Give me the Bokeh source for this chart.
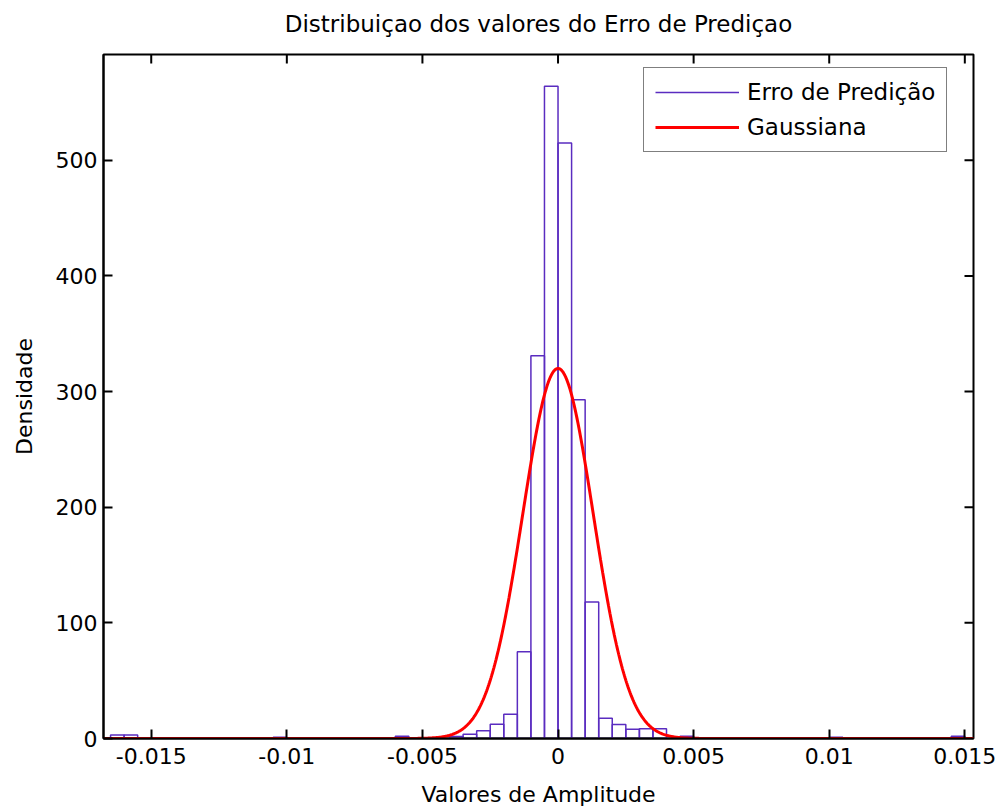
import numpy as np
from bokeh.plotting import figure
from bokeh.models import (ColumnDataSource, Range1d, FixedTicker, LinearAxis,
                          Legend, LegendItem)
from bokeh.embed import file_html
from bokeh.resources import INLINE

# Histogram of the prediction error (density), bins of width 0.0005
bin_width = 0.0005
bin_left = [-0.0165, -0.0160, -0.0105, -0.0060,
            -0.0040, -0.0035, -0.0030, -0.0025, -0.0020, -0.0015,
            -0.0010, -0.0005, 0.0000, 0.0005, 0.0010, 0.0015,
            0.0020, 0.0025, 0.0030, 0.0035, 0.0045, 0.0100, 0.0145]
bin_density = [3, 3, 1, 2,
               1.7, 3.7, 6.6, 12.4, 21, 75,
               331, 564, 515, 293, 118, 17.5,
               12, 8, 8.5, 8.5, 2, 1, 2]

# Fitted normal curve parameters
gauss_mu = 0.0
gauss_sigma = 0.0013
gauss_peak = 320.0

x_ticks = [-0.015, -0.01, -0.005, 0, 0.005, 0.01, 0.015]
x_tick_labels = ["-0.015", "-0.01", "-0.005", "0", "0.005", "0.01", "0.015"]
y_ticks = [0, 100, 200, 300, 400, 500]

title_text = "Distribuiçao dos valores do Erro de Prediçao"

x_min, x_max = -0.01676, 0.01532
y_max = 591.5

FONT = "DejaVu Sans"
TEXT_FS = "23px"
TICK_FS = "22px"
LABEL_FS = "22px"
PURPLE = "#5a2cc0"
RED = "#ff0000"

W, H = 997, 810
BL, BR, BT, BB = 103, 24, 54, 72
TICK_LEN = 9

plot_w = W - BL - BR
plot_h = H - BT - BB

left = np.array(bin_left)
hist_src = ColumnDataSource(dict(left=left, right=left + bin_width,
                                 top=np.array(bin_density, dtype=float),
                                 bottom=np.zeros(len(left))))

gx = np.linspace(x_min, x_max, 1200)
gy = gauss_peak * np.exp(-0.5 * ((gx - gauss_mu) / gauss_sigma) ** 2)
gauss_src = ColumnDataSource(dict(x=gx, y=gy))

p = figure(width=W, height=H, output_backend="svg", toolbar_location=None,
           x_range=Range1d(x_min, x_max), y_range=Range1d(0, y_max),
           x_axis_location=None, y_axis_location=None,
           min_border_left=BL, min_border_right=BR,
           min_border_top=BT, min_border_bottom=BB)
p.grid.visible = False
p.outline_line_color = "black"
p.outline_line_width = 2
p.background_fill_color = "white"
p.border_fill_color = "white"

bars = p.quad(left="left", right="right", top="top", bottom="bottom",
              source=hist_src, fill_color="white", fill_alpha=0.0,
              line_color=PURPLE, line_width=1.5)
curve = p.line("x", "y", source=gauss_src, line_color=RED, line_width=3)

# Bottom and left axes with inward ticks
x_axis = LinearAxis(axis_label="Valores de Amplitude",
                    ticker=FixedTicker(ticks=x_ticks),
                    major_label_overrides={t: s for t, s in zip(x_ticks, x_tick_labels)})
y_axis = LinearAxis(axis_label="Densidade", ticker=FixedTicker(ticks=y_ticks))
p.add_layout(x_axis, "below")
p.add_layout(y_axis, "left")

for ax in [x_axis, y_axis]:
    ax.axis_line_color = "black"
    ax.axis_line_width = 2
    ax.major_tick_line_color = "black"
    ax.major_tick_line_width = 2
    ax.major_tick_in = TICK_LEN
    ax.major_tick_out = 0
    ax.minor_tick_line_color = None
    ax.major_label_text_font = FONT
    ax.major_label_text_font_size = TICK_FS
    ax.major_label_text_color = "black"
    ax.axis_label_text_font = FONT
    ax.axis_label_text_font_size = LABEL_FS
    ax.axis_label_text_font_style = "normal"
    ax.axis_label_text_color = "black"

x_axis.major_label_standoff = 9
x_axis.axis_label_standoff = 15
y_axis.major_label_standoff = 6
y_axis.axis_label_standoff = 16

# Title carried by a tick-less axis above the box
title_axis = LinearAxis(axis_label=title_text, ticker=FixedTicker(ticks=[]),
                        axis_line_color=None, major_tick_in=0, major_tick_out=0,
                        minor_tick_line_color=None, major_label_standoff=0,
                        axis_label_standoff=18, axis_label_text_font=FONT,
                        axis_label_text_font_size=TEXT_FS,
                        axis_label_text_font_style="normal",
                        axis_label_text_color="black")
p.add_layout(title_axis, "above")

# Inward ticks on the top and right edges of the box
dx_tick = TICK_LEN * (x_max - x_min) / plot_w
dy_tick = TICK_LEN * y_max / plot_h
xt = np.array(x_ticks, dtype=float)
yt = np.array(y_ticks[1:], dtype=float)
p.segment(x0=xt, y0=np.full(len(xt), y_max), x1=xt, y1=np.full(len(xt), y_max - dy_tick),
          line_color="black", line_width=2)
p.segment(x0=np.full(len(yt), x_max), y0=yt, x1=np.full(len(yt), x_max - dx_tick), y1=yt,
          line_color="black", line_width=2)

# Legend swatch for the histogram is a plain line
hist_swatch = p.line(x=[0, 0], y=[-10, -10], line_color=PURPLE, line_width=1.5)

legend = Legend(items=[LegendItem(label="Erro de Predição", renderers=[hist_swatch]),
                       LegendItem(label="Gaussiana", renderers=[curve])],
                location=(540, 586))
legend.label_text_font = FONT
legend.label_text_font_size = TEXT_FS
legend.label_text_color = "black"
legend.border_line_color = "black"
legend.border_line_width = 1.5
legend.background_fill_color = "white"
legend.background_fill_alpha = 1.0
legend.padding = 11
legend.spacing = 9
legend.label_height = 26
legend.glyph_height = 26
legend.glyph_width = 84
legend.label_standoff = 8
legend.margin = 0
p.add_layout(legend, "center")

open("out.html", "w").write(file_html(p, INLINE))
